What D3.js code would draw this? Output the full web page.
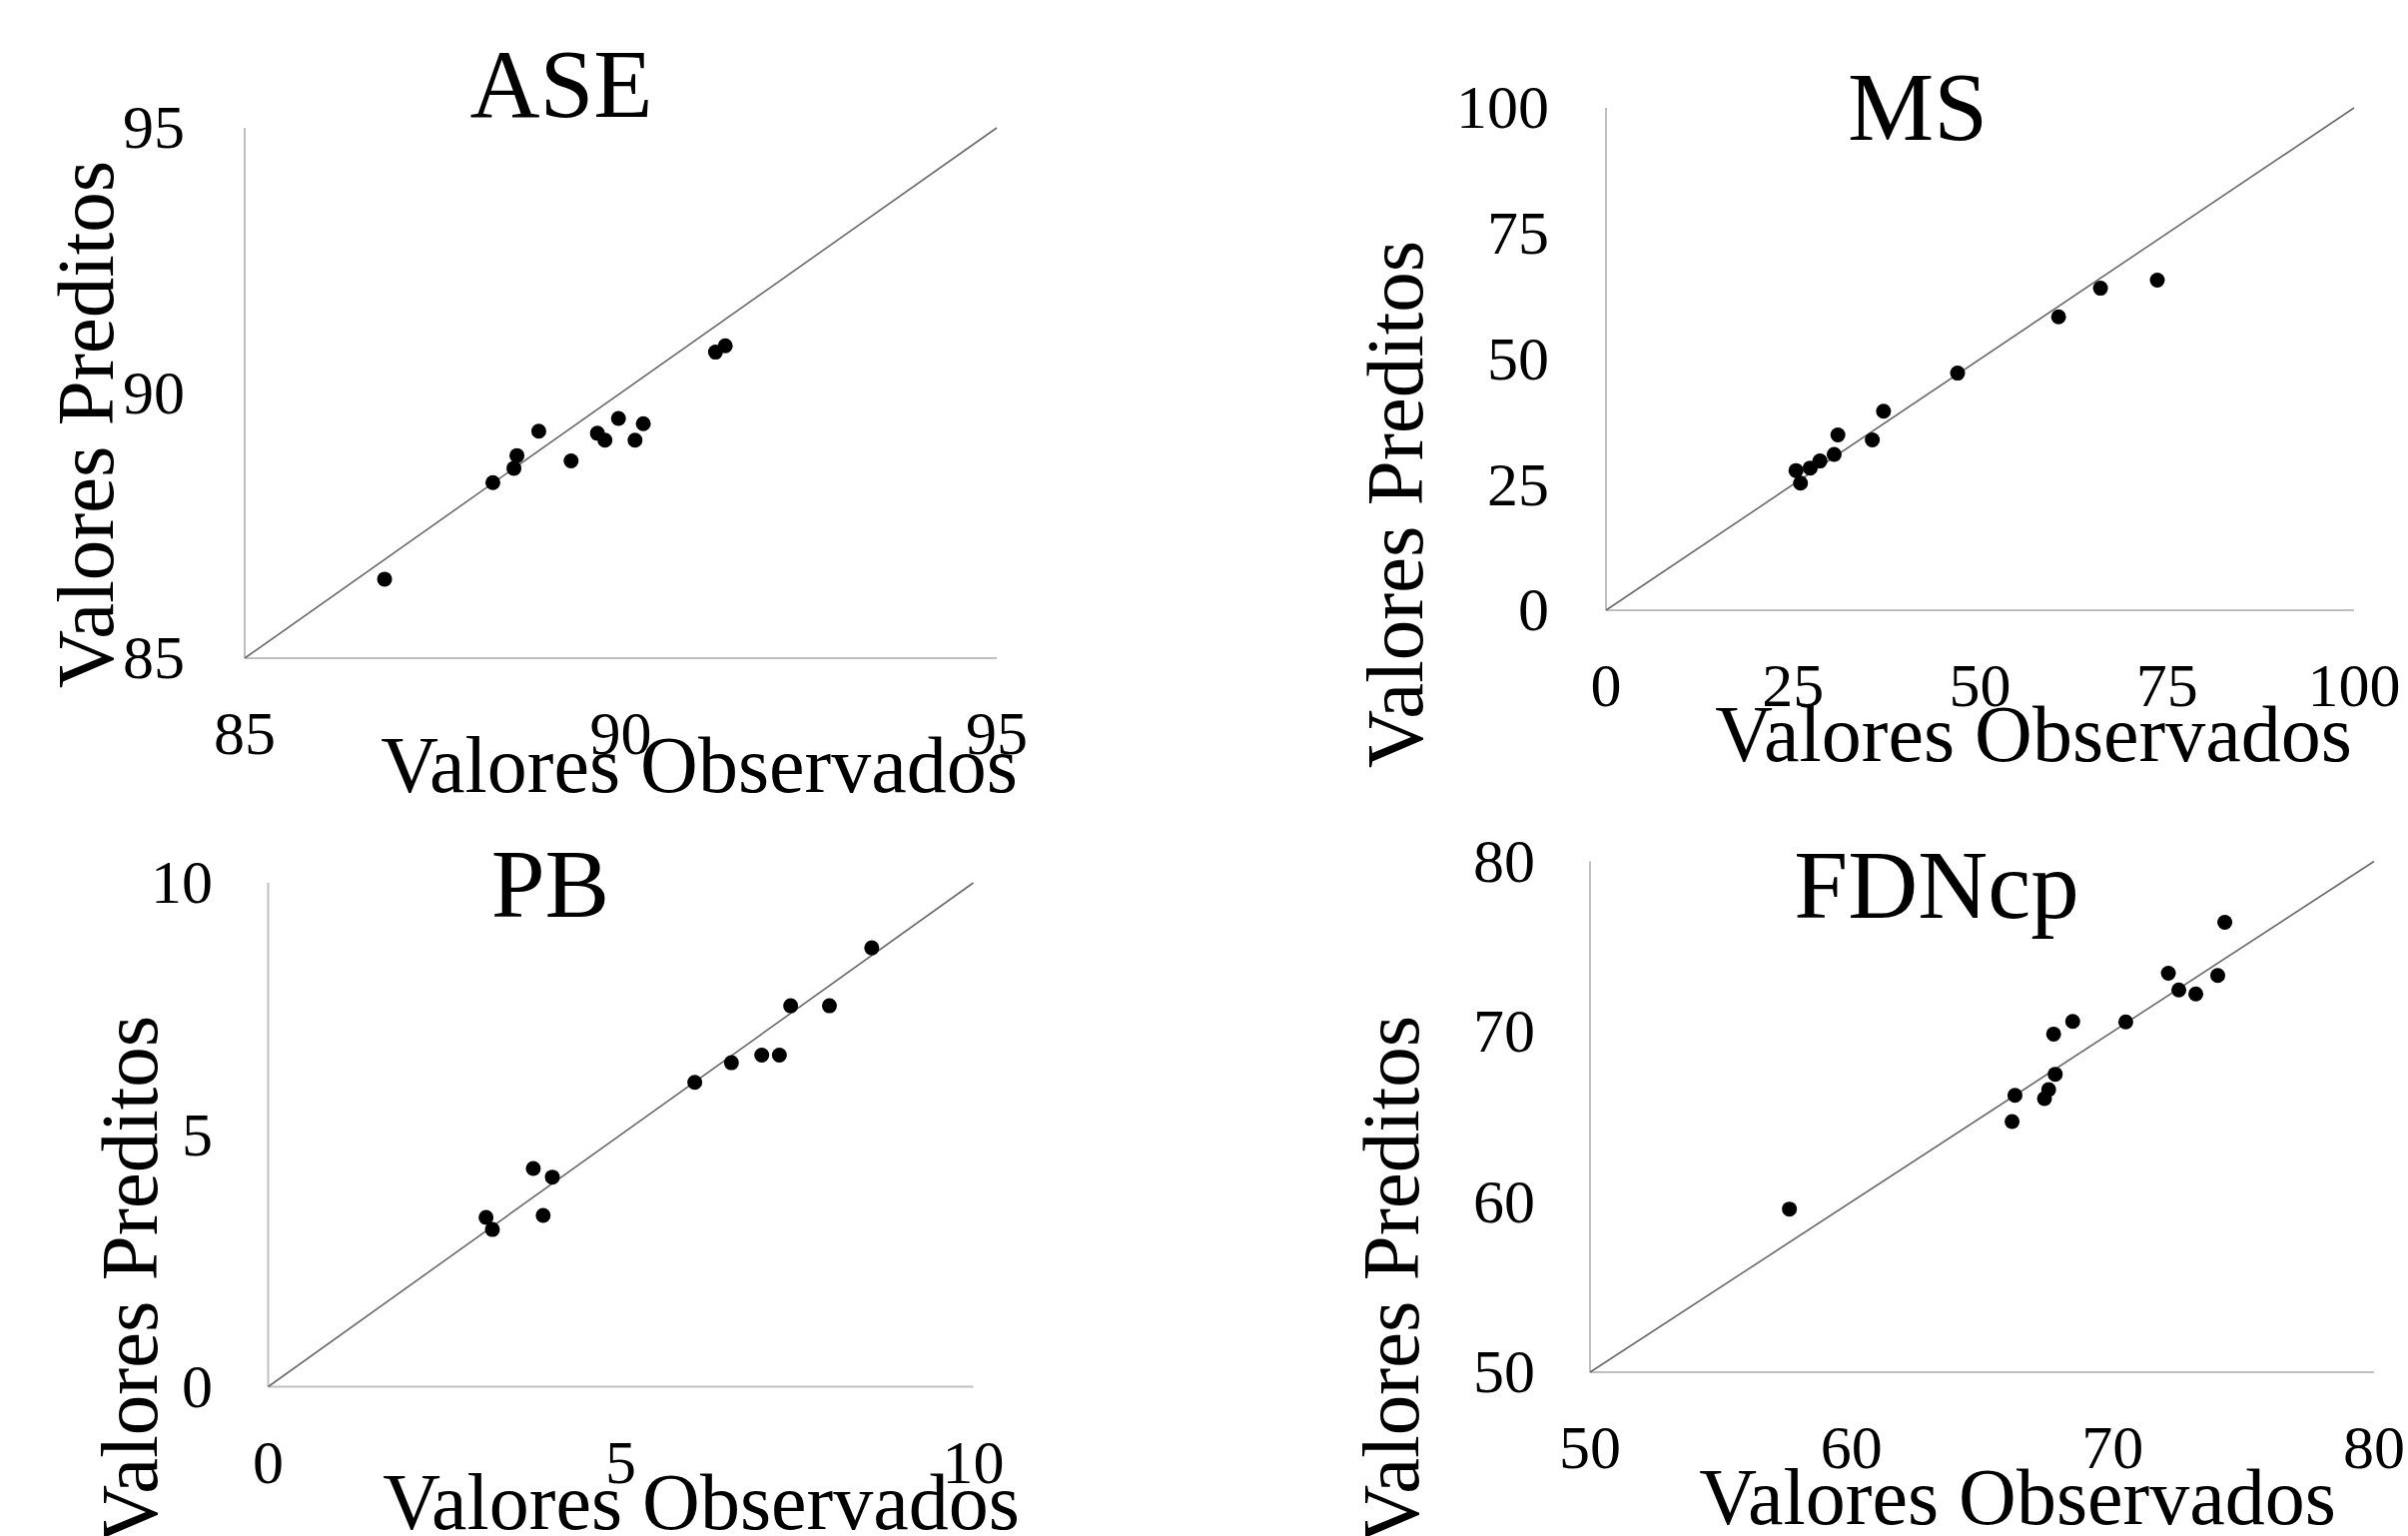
<!DOCTYPE html>
<html>
<head>
<meta charset="utf-8">
<script src="https://cdn.jsdelivr.net/npm/d3@7"></script>
<style>
  body { margin: 0; background: #fff; }
  svg text { font-family: "Liberation Serif", "Times New Roman", serif; fill: #000; }
</style>
</head>
<body>
<div id="container"></div>
<script>
// values
let aseTicks = [85, 90, 95];
let aseObs  = [86.86, 88.30, 88.58, 88.62, 88.91, 89.34, 89.69, 89.79, 89.97, 90.19, 90.30, 91.26, 91.39];
let asePred = [86.49, 88.31, 88.58, 88.82, 89.28, 88.72, 89.24, 89.11, 89.52, 89.11, 89.42, 90.77, 90.89];

let msTicks = [0, 25, 50, 75, 100];
let msObs  = [25.4, 26.0, 27.3, 28.6, 30.5, 31.0, 35.6, 37.1, 47.0, 60.5, 66.1, 73.7];
let msPred = [27.8, 25.3, 28.3, 29.7, 31.0, 34.9, 33.9, 39.6, 47.2, 58.4, 64.1, 65.7];

let pbTicks = [0, 5, 10];
let pbObs  = [3.09, 3.18, 3.76, 3.90, 4.03, 6.05, 6.57, 7.00, 7.25, 7.41, 7.96, 8.56];
let pbPred = [3.36, 3.12, 4.33, 3.40, 4.16, 6.04, 6.43, 6.58, 6.58, 7.56, 7.56, 8.71];

let fdnTicks = [50, 60, 70, 80];
let fdnObs  = [57.63, 66.15, 66.26, 67.39, 67.55, 67.80, 67.74, 68.47, 70.50, 72.13, 72.53, 73.18, 74.02, 74.29];
let fdnPred = [59.58, 64.72, 66.26, 66.07, 66.60, 67.50, 69.86, 70.60, 70.57, 73.43, 72.45, 72.21, 73.30, 76.42];

let xTitle = "Valores Observados";
let yTitle = "Valores Preditos";

function drawPanel(svg, p) {
    let lo = p.ticks[0], hi = p.ticks[p.ticks.length - 1];
    let x = d3.scaleLinear().domain([lo, hi]).range([p.left, p.right]);
    let y = d3.scaleLinear().domain([lo, hi]).range([p.bottom, p.top]);
    let g = svg.append("g");

    // axis lines (no tick marks)
    g.append("line")
        .attr("x1", x(lo)).attr("x2", x(lo))
        .attr("y1", y(lo)).attr("y2", y(hi))
        .style("stroke", "#bfbfbf").style("stroke-width", 2);
    g.append("line")
        .attr("x1", x(lo)).attr("x2", x(hi))
        .attr("y1", y(lo)).attr("y2", y(lo))
        .style("stroke", "#bfbfbf").style("stroke-width", 2);

    // 1:1 line
    g.append("line")
        .attr("x1", x(lo)).attr("y1", y(lo))
        .attr("x2", x(hi)).attr("y2", y(hi))
        .style("stroke", "#6b6b6b").style("stroke-width", 1.6);

    g.selectAll("text.ytick")
        .data(p.ticks)
        .enter().append("text")
        .attr("class", "ytick")
        .attr("x", p.yLabEnd)
        .attr("y", d => y(d))
        .attr("dy", "0.33em")
        .attr("text-anchor", "end")
        .style("font-size", "62px")
        .text(d => d);

    g.selectAll("text.xtick")
        .data(p.ticks)
        .enter().append("text")
        .attr("class", "xtick")
        .attr("x", d => x(d))
        .attr("y", p.xLabBase)
        .attr("text-anchor", "middle")
        .style("font-size", "62px")
        .text(d => d);

    let pts = p.obs.map((d, i) => ({o: d, p: p.pred[i]}));
    g.selectAll("circle")
        .data(pts)
        .enter().append("circle")
        .attr("cx", d => x(d.o))
        .attr("cy", d => y(d.p))
        .attr("r", 7.5)
        .style("fill", "#000");

    g.append("text")
        .attr("x", p.titleX)
        .attr("y", p.titleY)
        .attr("text-anchor", "middle")
        .style("font-size", "97px")
        .text(p.title);

    g.append("text")
        .attr("x", p.xTitleX)
        .attr("y", p.xTitleY)
        .attr("text-anchor", "middle")
        .style("font-size", "80px")
        .text(xTitle);

    g.append("text")
        .attr("transform", "translate(" + p.yTitleX + "," + p.yTitleY + ") rotate(-90)")
        .attr("text-anchor", "middle")
        .style("font-size", "81px")
        .text(yTitle);
}

let svg = d3.select("#container")
    .append("svg")
    .attr("width", 2411)
    .attr("height", 1538);

let panels = [
    {title: "ASE", ticks: aseTicks, obs: aseObs, pred: asePred,
     left: 245, right: 998, top: 128, bottom: 659,
     yLabEnd: 185, xLabBase: 755, titleX: 562, titleY: 117,
     xTitleX: 700, xTitleY: 793, yTitleX: 113, yTitleY: 425},
    {title: "MS", ticks: msTicks, obs: msObs, pred: msPred,
     left: 1608, right: 2357, top: 108, bottom: 611,
     yLabEnd: 1551, xLabBase: 707, titleX: 1920, titleY: 140,
     xTitleX: 2036, xTitleY: 762, yTitleX: 1424, yTitleY: 505},
    {title: "PB", ticks: pbTicks, obs: pbObs, pred: pbPred,
     left: 268.5, right: 974.5, top: 884, bottom: 1388.5,
     yLabEnd: 213, xLabBase: 1485, titleX: 551, titleY: 918,
     xTitleX: 702, xTitleY: 1531, yTitleX: 157, yTitleY: 1281},
    {title: "FDNcp", ticks: fdnTicks, obs: fdnObs, pred: fdnPred,
     left: 1592, right: 2377, top: 862.5, bottom: 1374,
     yLabEnd: 1537, xLabBase: 1470, titleX: 1939, titleY: 919,
     xTitleX: 2020, xTitleY: 1526, yTitleX: 1420, yTitleY: 1281}
];

panels.forEach(p => drawPanel(svg, p));
</script>
</body>
</html>
